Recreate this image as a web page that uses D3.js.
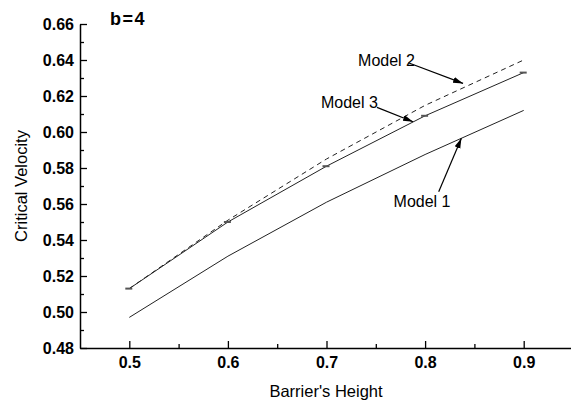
<!DOCTYPE html>
<html><head><meta charset="utf-8">
<script src="https://cdn.jsdelivr.net/npm/d3@7"></script>
<style>
body{margin:0;background:#fff;}
text{font-family:Arial,"Liberation Sans",sans-serif;}
</style></head>
<body><svg id="c" width="571" height="401"></svg>
<script>
const heights = [0.5, 0.6, 0.7, 0.8, 0.9];
const model1 = [0.497, 0.531, 0.561, 0.5875, 0.612];
const model2 = [0.513, 0.551, 0.585, 0.6148, 0.640];
const model3 = [0.513, 0.550, 0.581, 0.609, 0.633];
const xTicks = [0.5, 0.6, 0.7, 0.8, 0.9];
const yTicks = [0.48, 0.50, 0.52, 0.54, 0.56, 0.58, 0.60, 0.62, 0.64, 0.66];
const annotations = [
  {label: "Model 2", lx: 0.732, ly: 0.6368, tx: 0.783, ty: 0.6385, hx: 0.8385, hy: 0.627},
  {label: "Model 3", lx: 0.6944, ly: 0.6135, tx: 0.7512, ty: 0.6137, hx: 0.7878, hy: 0.6057},
  {label: "Model 1", lx: 0.768, ly: 0.5582, tx: 0.8138, ty: 0.5668, hx: 0.8368, hy: 0.5965}
];

const svg = d3.select("#c");
const x = d3.scaleLinear().domain([0.45, 0.95]).range([80, 573]);
const y = d3.scaleLinear().domain([0.48, 0.66]).range([348, 24]);

// minor ticks
svg.append("g").attr("transform","translate(0,348)")
  .call(d3.axisBottom(x).tickValues(d3.range(0.55,0.95,0.1)).tickSizeInner(-4).tickSizeOuter(0).tickFormat(""))
  .call(g=>g.select(".domain").remove())
  .call(g=>g.selectAll("line").attr("stroke","#000").attr("stroke-width",1.3));
svg.append("g").attr("transform","translate(80,0)")
  .call(d3.axisLeft(y).tickValues(d3.range(0.49,0.66,0.02)).tickSizeInner(-4).tickSizeOuter(0).tickFormat(""))
  .call(g=>g.select(".domain").remove())
  .call(g=>g.selectAll("line").attr("stroke","#000").attr("stroke-width",1.3));

const xa = svg.append("g").attr("transform","translate(0,348)")
  .call(d3.axisBottom(x).tickValues(xTicks).tickSizeInner(-7).tickSizeOuter(0).tickPadding(9).tickFormat(d3.format(".1f")));
const ya = svg.append("g").attr("transform","translate(80,0)")
  .call(d3.axisLeft(y).tickValues(yTicks).tickSizeInner(-7).tickSizeOuter(0).tickPadding(6).tickFormat(d3.format(".2f")));
[xa,ya].forEach(a=>{
  a.select(".domain").attr("stroke","#000").attr("stroke-width",1.5);
  a.selectAll("line").attr("stroke","#000").attr("stroke-width",1.3);
  a.selectAll("text").attr("fill","#000").style("font-size","16px").style("font-weight","bold")
   .style("font-family","Arial, 'Liberation Sans', sans-serif");
});

const line = d3.line().x((d,i)=>x(heights[i])).y(d=>y(d));
svg.append("path").datum(model1).attr("d",line).attr("fill","none").attr("stroke","#222").attr("stroke-width",1);
svg.append("path").datum(model3).attr("d",line).attr("fill","none").attr("stroke","#222").attr("stroke-width",1);
svg.append("path").datum(model2).attr("d",line).attr("fill","none").attr("stroke","#222").attr("stroke-width",1).attr("stroke-dasharray","5,4");

// markers on model 3
svg.selectAll(".mk").data(model3).enter().append("line")
  .attr("x1",(d,i)=>x(heights[i])-4).attr("x2",(d,i)=>x(heights[i])+3)
  .attr("y1",d=>y(d)).attr("y2",d=>y(d))
  .attr("stroke","#555").attr("stroke-width",2);

svg.append("defs").append("marker").attr("id","ah").attr("viewBox","0 0 10 10")
  .attr("refX",10).attr("refY",5).attr("markerWidth",10).attr("markerHeight",10)
  .attr("markerUnits","userSpaceOnUse").attr("orient","auto")
  .append("path").attr("d","M0,2 L10,5 L0,8 Z").attr("fill","#000");

annotations.forEach(a=>{
  svg.append("line").attr("x1",x(a.tx)).attr("y1",y(a.ty)).attr("x2",x(a.hx)).attr("y2",y(a.hy))
    .attr("stroke","#000").attr("stroke-width",1.2).attr("marker-end","url(#ah)");
  svg.append("text").attr("x",x(a.lx)).attr("y",y(a.ly)).text(a.label)
    .style("font-size","16px").attr("fill","#000");
});

svg.append("text").attr("x",110).attr("y",25).text("b=4")
  .style("font-size","18px").style("font-weight","bold").style("letter-spacing","1.5px");

svg.append("text").attr("x",326).attr("y",397).attr("text-anchor","middle")
  .text("Barrier's Height").style("font-size","16.5px");
svg.append("text").attr("transform","translate(27,186) rotate(-90)").attr("text-anchor","middle")
  .text("Critical Velocity").style("font-size","16.5px");
</script></body></html>
